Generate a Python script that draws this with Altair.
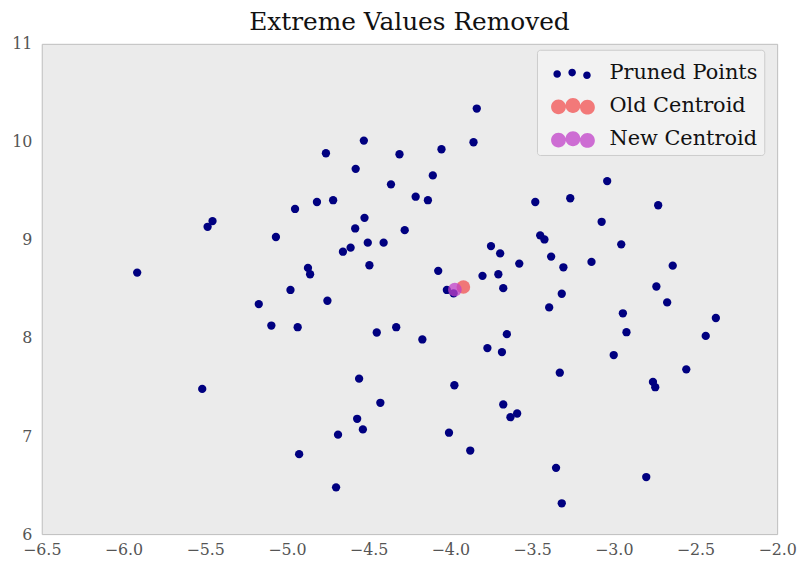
import altair as alt
import pandas as pd

# ---- data ----
pruned_x = [
    -5.916, -5.485, -5.455, -5.067, -4.950, -4.978, -5.172, -3.838, -3.858, -4.529,
    -4.761, -4.311, -4.054, -4.579, -4.107, -4.363, -4.212, -4.137, -4.816, -4.717,
    -3.480, -4.525, -4.582, -4.279, -4.505, -4.408, -4.657, -4.610, -3.450, -3.424,
    -3.751, -3.695, -3.578, -4.495, -4.871, -4.858, -4.074, -3.803, -3.706, -4.752,
    -3.676, -3.040, -3.266, -2.728, -3.074, -2.954, -3.383, -3.308, -3.136, -2.639,
    -2.739, -3.318, -2.673, -3.395, -2.944, -2.375, -2.922, -2.437, -3.000, -3.330,
    -2.556, -2.760, -2.746, -3.353, -2.801, -3.318, -4.934, -4.450, -4.331, -4.171,
    -3.773, -3.684, -3.654, -4.558, -3.975, -4.428, -3.676, -3.632, -3.591, -4.570,
    -4.535, -4.687, -4.008, -3.878, -4.925, -4.699, -5.095, -5.518, -4.021, -3.980,
]
pruned_y = [
    8.667, 9.134, 9.192, 9.030, 9.316, 8.490, 8.346, 10.340, 9.996, 10.013,
    9.884, 9.874, 9.925, 9.725, 9.658, 9.567, 9.441, 9.405, 9.387, 9.405,
    9.387, 9.225, 9.117, 9.100, 8.972, 8.972, 8.880, 8.921, 9.047, 9.005,
    8.937, 8.863, 8.759, 8.742, 8.715, 8.650, 8.685, 8.634, 8.650, 8.380,
    8.508, 9.600, 9.425, 9.354, 9.185, 8.955, 8.830, 8.721, 8.776, 8.738,
    8.525, 8.451, 8.363, 8.312, 8.252, 8.204, 8.059, 8.021, 7.826, 7.646,
    7.680, 7.552, 7.498, 6.676, 6.582, 6.314, 8.110, 8.056, 8.110, 7.985,
    7.897, 7.856, 8.039, 7.585, 7.518, 7.339, 7.322, 7.192, 7.230, 7.176,
    7.068, 7.014, 7.034, 6.852, 6.815, 6.477, 8.127, 7.481, 8.490, 8.456,
]
old_centroid_x = [-3.920]
old_centroid_y = [8.520]
new_centroid_x = [-3.972]
new_centroid_y = [8.493]

series_names = ["Pruned Points", "Old Centroid", "New Centroid"]
series_colors = ["#000080", "#F25050", "#C040C8"]

x_ticks = [-6.5, -6.0, -5.5, -5.0, -4.5, -4.0, -3.5, -3.0, -2.5, -2.0]
y_ticks = [6, 7, 8, 9, 10, 11]

title_text = "Extreme Values Removed"

# ---- tables ----
pts = pd.DataFrame({"x": pruned_x, "y": pruned_y, "series": series_names[0]})
old = pd.DataFrame({"x": old_centroid_x, "y": old_centroid_y, "series": series_names[1]})
new = pd.DataFrame({"x": new_centroid_x, "y": new_centroid_y, "series": series_names[2]})

SERIF = "DejaVu Serif"


def circ(cx, cy, r):
    return (f"M{cx - r:.3f},{cy:.3f}"
            f"a{r},{r} 0 1,0 {2 * r:.3f},0"
            f"a{r},{r} 0 1,0 {-2 * r:.3f},0Z")


small_path = "".join(circ(cx, cy, 0.23) for cx, cy in [(-0.16, 0.08), (0.75, 0.0), (1.65, 0.16)])
big_path = "".join(circ(cx, cy, 0.45) for cx, cy in [(-0.08, 0.06), (0.80, -0.02), (1.68, 0.08)])

legend = alt.Legend(
    title=None,
    orient="none",
    legendX=499,
    legendY=6,
    padding=6,
    fillColor="#F2F2F2",
    strokeColor="#CCCCCC",
    cornerRadius=3,
    labelFont=SERIF,
    labelFontSize=21,
    labelColor="#111111",
    labelOffset=33,
    rowPadding=6.5,
    symbolSize=1100,
    symbolStrokeWidth=0,
    symbolType=alt.ExprRef(expr=f"datum.value === '{series_names[0]}' ? '{small_path}' : '{big_path}'"),
    symbolOpacity=alt.ExprRef(expr=f"datum.value === '{series_names[0]}' ? 1 : 0.75"),
)

color = alt.Color(
    "series:N",
    scale=alt.Scale(domain=series_names, range=series_colors),
    legend=legend,
)

x_enc = alt.X(
    "x:Q",
    scale=alt.Scale(domain=[-6.5, -2.0], nice=False, zero=False),
    axis=alt.Axis(values=x_ticks, format=".1f", title=None, grid=False, ticks=False,
                  domain=False, labelPadding=8, labelFont=SERIF, labelFontSize=16,
                  labelColor="#555555", labelFlush=False, labelOverlap=False),
)
y_enc = alt.Y(
    "y:Q",
    scale=alt.Scale(domain=[6, 11], nice=False, zero=False),
    axis=alt.Axis(values=y_ticks, format="d", title=None, grid=False, ticks=False,
                  domain=False, labelPadding=10, labelFont=SERIF, labelFontSize=16,
                  labelColor="#555555", labelFlush=False, labelOverlap=False),
)

pts_layer = alt.Chart(pts).mark_circle(size=70, opacity=1).encode(x=x_enc, y=y_enc, color=color)
old_layer = alt.Chart(old).mark_circle(size=190, opacity=0.75).encode(x=x_enc, y=y_enc, color=color)
new_layer = alt.Chart(new).mark_circle(size=190, opacity=0.75).encode(x=x_enc, y=y_enc, color=color)

chart = alt.layer(pts_layer, old_layer, new_layer).properties(
    width=741,
    height=494,
    title=alt.TitleParams(title_text, font=SERIF, fontSize=25, fontWeight="normal",
                          color="#111111", anchor="middle", offset=1),
    autosize=alt.AutoSizeParams(type="none"),
    padding={"left": 34, "top": 34, "right": 20, "bottom": 24},
).configure(
    background="white",
).configure_view(
    fill="#EBEBEB",
    stroke="#BDBDBD",
    strokeWidth=1,
)

chart.save("out.html", embed_options={"renderer": "svg", "actions": False})
